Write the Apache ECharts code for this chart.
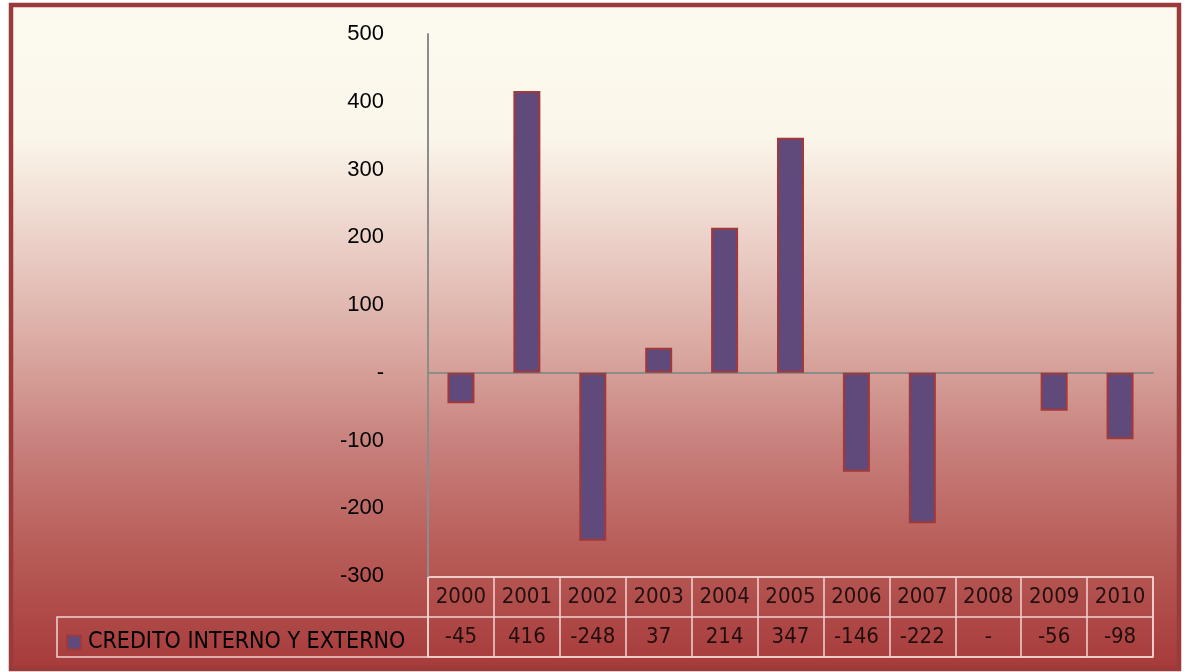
<!DOCTYPE html>
<html>
<head>
<meta charset="utf-8">
<script src="https://cdn.jsdelivr.net/npm/echarts@6/dist/echarts.min.js"></script>
<style>
html,body{margin:0;padding:0;background:#fff;}
#c{width:1185px;height:672px;}
</style>
</head>
<body>
<div id="c"></div>
<script>
const years = ['2000','2001','2002','2003','2004','2005','2006','2007','2008','2009','2010'];
const values = [-45, 416, -248, 37, 214, 347, -146, -222, 0, -56, -98];
const seriesName = 'CREDITO INTERNO Y EXTERNO';
const yTicks = {min: -300, max: 500, interval: 100};

const fmt = v => (v === 0 ? '-' : String(v));
const tableFont = '"Liberation Sans Narrow","DejaVu Sans Condensed","Liberation Sans",sans-serif';
const lineCol = '#F2D4D2';

const chart = echarts.init(document.getElementById('c'), null, {renderer: 'canvas'});

const option = {
  backgroundColor: '#ffffff',
  animation: false,
  graphic: [
    {
      type: 'rect', z: -10, silent: true,
      shape: {x: 11, y: 5, width: 1168, height: 664},
      style: {
        fill: new echarts.graphic.LinearGradient(0, 0, 0, 1, [
          {offset: 0, color: '#FCFAF0'},
          {offset: 0.2, color: '#FBF6EA'},
          {offset: 0.37, color: '#EACDC5'},
          {offset: 0.52, color: '#D9A8A0'},
          {offset: 0.67, color: '#C77E7A'},
          {offset: 0.82, color: '#B85C58'},
          {offset: 1, color: '#A63A3A'}
        ]),
        stroke: '#9B3A3A', lineWidth: 4.5
      }
    },
    {
      type: 'rect', z: 1, silent: true,
      shape: {x: 57, y: 617, width: 371, height: 40},
      style: {fill: 'none', stroke: lineCol, lineWidth: 1.5}
    }
  ],
  legend: {
    data: [seriesName],
    left: 61, top: 626,
    icon: 'rect', itemWidth: 14, itemHeight: 14, itemGap: 6,
    textStyle: {fontSize: 23, color: '#000', fontFamily: tableFont, padding: [0,0,0,2]}
  },
  grid: [
    {left: 428, right: 32, top: 34, bottom: 96, containLabel: false},
    {left: 428, right: 32, top: 577, bottom: 15, show: true, borderColor: lineCol, borderWidth: 1.5, backgroundColor: 'transparent'}
  ],
  xAxis: [
    {
      type: 'category', gridIndex: 0, data: years,
      axisLine: {onZero: true, lineStyle: {color: '#8C8C8C', width: 2}},
      axisTick: {show: false}, axisLabel: {show: false}, splitLine: {show: false}
    },
    {
      type: 'category', gridIndex: 1, data: years,
      axisLine: {show: false}, axisTick: {show: false}, axisLabel: {show: false},
      splitLine: {show: true, interval: 0, lineStyle: {color: lineCol, width: 1.5}}
    }
  ],
  yAxis: [
    {
      type: 'value', gridIndex: 0, min: yTicks.min, max: yTicks.max, interval: yTicks.interval,
      axisLine: {show: true, lineStyle: {color: '#8C8C8C', width: 2}},
      axisTick: {show: false}, splitLine: {show: false},
      axisLabel: {formatter: fmt, fontSize: 22, color: '#000', margin: 44, fontFamily: '"Liberation Sans",sans-serif'}
    },
    {
      type: 'category', gridIndex: 1, data: ['vals', 'years'],
      axisLine: {show: false}, axisTick: {show: false}, axisLabel: {show: false},
      splitLine: {show: true, interval: 0, lineStyle: {color: lineCol, width: 1.5}}
    }
  ],
  series: [
    {
      name: seriesName, type: 'bar', xAxisIndex: 0, yAxisIndex: 0,
      data: values.map(v => (v === 0 ? {value: v, itemStyle: {borderWidth: 0}} : v)),
      barWidth: 27,
      itemStyle: {color: '#604A7B', borderColor: '#A3383A', borderWidth: 2}
    },
    {
      type: 'scatter', xAxisIndex: 1, yAxisIndex: 1, symbolSize: 0, silent: true,
      data: years.map(y => [y, 'years']),
      label: {show: true, position: 'inside', formatter: p => p.value[0], fontSize: 22, color: '#000', fontFamily: tableFont}
    },
    {
      type: 'scatter', xAxisIndex: 1, yAxisIndex: 1, symbolSize: 0, silent: true,
      data: years.map((y, i) => [y, 'vals', values[i]]),
      label: {show: true, position: 'inside', formatter: p => fmt(p.value[2]), fontSize: 22, color: '#000', fontFamily: tableFont}
    }
  ]
};
chart.setOption(option);
</script>
</body>
</html>
